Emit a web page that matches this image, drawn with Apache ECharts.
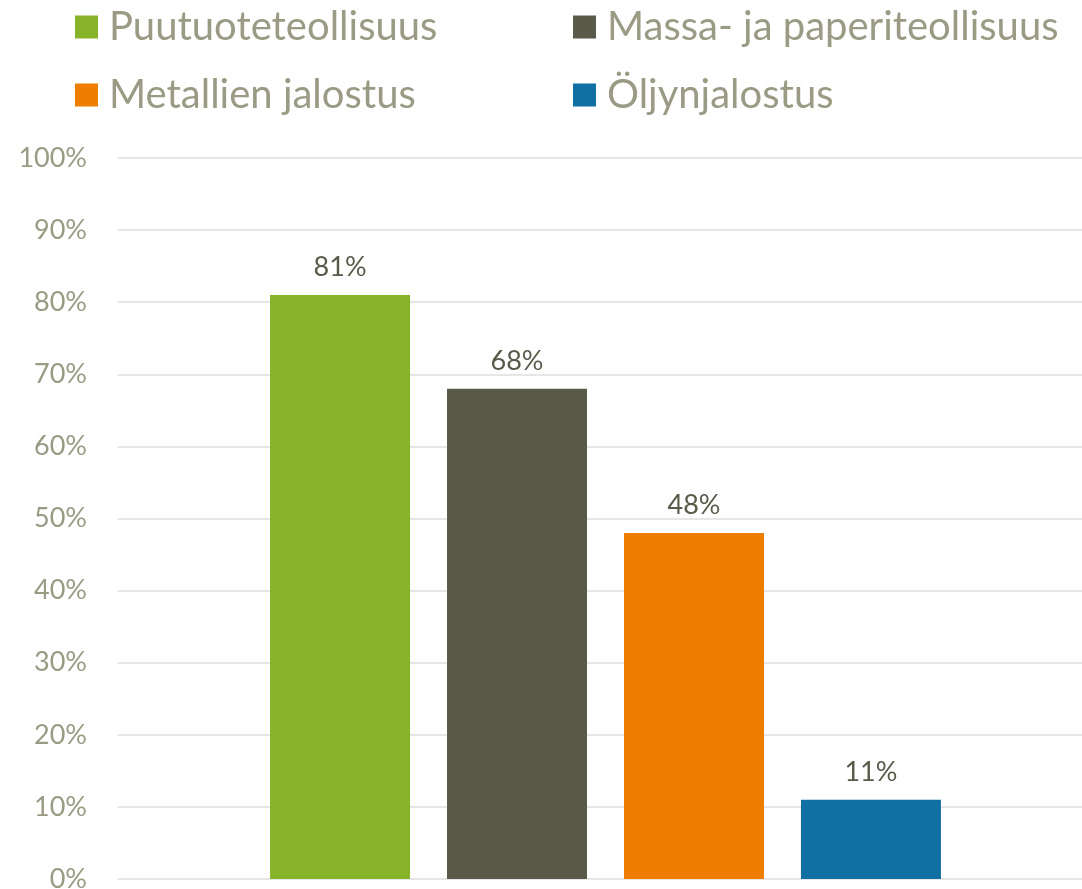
<!DOCTYPE html>
<html><head><meta charset="utf-8">
<script src="https://cdn.jsdelivr.net/npm/echarts@6/dist/echarts.min.js"></script>
<style>html,body{margin:0;padding:0;background:#fff}#c{width:1082px;height:889px}</style>
</head><body><div id="c"></div>
<script>
const categories = [''];
const seriesNames = ['Puutuoteteollisuus', 'Massa- ja paperiteollisuus', 'Metallien jalostus', 'Öljynjalostus'];
const seriesValues = [81, 68, 48, 11];
const seriesColors = ['#86b327', '#5a5a4b', '#ef7d00', '#1170a3'];
const yTicks = [0, 10, 20, 30, 40, 50, 60, 70, 80, 90, 100];

const font = 'Lato, "Open Sans", sans-serif';
const legendPos = [[75, 7], [573, 7], [75, 75], [573, 75]];
const chart = echarts.init(document.getElementById('c'), null, {renderer: 'canvas'});
chart.setOption({
  animation: false,
  legend: seriesNames.map((n, i) => ({
    data: [n], left: legendPos[i][0], top: legendPos[i][1], padding: 0,
    icon: 'rect', itemWidth: 23, itemHeight: 23,
    textStyle: {fontFamily: font, fontSize: 40, color: '#9a9a85', padding: [0, 0, 0, 6]}
  })),
  grid: {left: 118, top: 158, width: 975, bottom: 10, containLabel: false, outerBoundsMode: 'none'},
  xAxis: {type: 'category', data: categories, axisLine: {show: false}, axisTick: {show: false}, axisLabel: {show: false}},
  yAxis: {
    type: 'value', min: 0, max: 100, interval: 10,
    axisLine: {show: false}, axisTick: {show: false},
    axisLabel: {formatter: v => yTicks.includes(v) ? v + '%' : '', fontFamily: font, fontSize: 27, color: '#9a9a85', margin: 31},
    splitLine: {lineStyle: {color: '#e6e6e6', width: 2}}
  },
  series: seriesNames.map((n, i) => ({
    name: n, type: 'bar', data: [seriesValues[i]], barWidth: 140, barGap: '26.4%',
    itemStyle: {color: seriesColors[i]},
    label: {show: true, position: 'top', distance: 14, formatter: '{c}%', fontFamily: font, fontSize: 27, color: '#5a5a4b'}
  }))
});
</script></body></html>
